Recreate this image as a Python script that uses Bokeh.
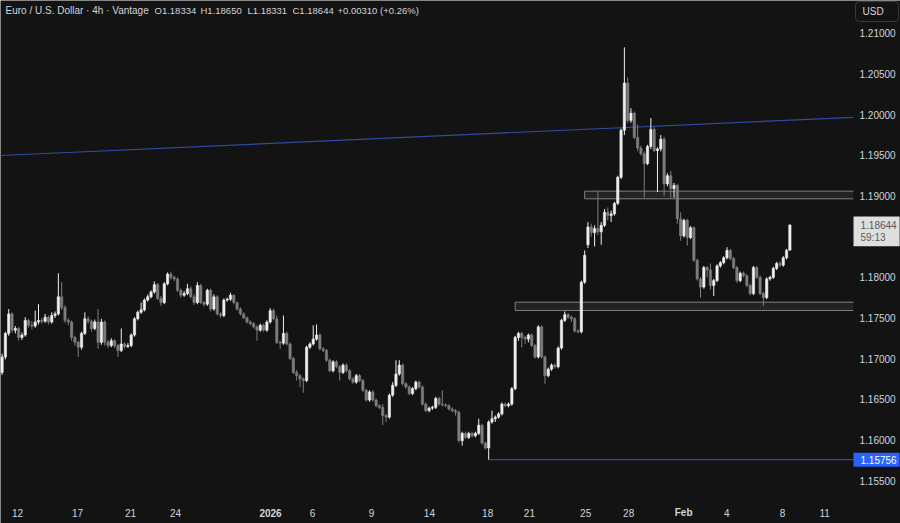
from bokeh.plotting import figure
from bokeh.models import ColumnDataSource, Label, Range1d
from bokeh.embed import file_html
from bokeh.resources import INLINE

# ---------------- data (EUR/USD 4h candles, oldest first) ----------------
opens = [
    1.1683, 1.1702, 1.1731, 1.1755, 1.1735, 1.1737, 1.1726, 1.1729, 1.1747, 1.1741,
    1.1740, 1.1745, 1.1747, 1.1746, 1.1751, 1.1745, 1.1753, 1.1755, 1.1776, 1.1763,
    1.1747, 1.1745, 1.1726, 1.1720, 1.1714, 1.1731, 1.1749, 1.1746, 1.1737, 1.1745,
    1.1720, 1.1745, 1.1720, 1.1716, 1.1722, 1.1716, 1.1710, 1.1718, 1.1715, 1.1716,
    1.1729, 1.1749, 1.1757, 1.1760, 1.1772, 1.1776, 1.1782, 1.1791, 1.1774, 1.1769,
    1.1792, 1.1804, 1.1800, 1.1798, 1.1784, 1.1778, 1.1780, 1.1786, 1.1776, 1.1769,
    1.1790, 1.1769, 1.1767, 1.1784, 1.1761, 1.1776, 1.1755, 1.1753, 1.1772, 1.1773,
    1.1778, 1.1769, 1.1761, 1.1755, 1.1750, 1.1745, 1.1743, 1.1739, 1.1735, 1.1741,
    1.1735, 1.1745, 1.1759, 1.1749, 1.1720, 1.1719, 1.1731, 1.1718, 1.1700, 1.1683,
    1.1679, 1.1675,
    1.1673, 1.1714, 1.1718, 1.1724, 1.1729, 1.1712, 1.1710, 1.1698, 1.1685, 1.1696,
    1.1690, 1.1683, 1.1692, 1.1685, 1.1675, 1.1671, 1.1679, 1.1673, 1.1661, 1.1649,
    1.1659, 1.1649, 1.1642, 1.1640, 1.1630, 1.1628, 1.1655, 1.1667, 1.1681, 1.1692,
    1.1669, 1.1665, 1.1657, 1.1663, 1.1671, 1.1665, 1.1644, 1.1636, 1.1639, 1.1640,
    1.1651, 1.1644, 1.1643, 1.1642, 1.1638, 1.1636, 1.1634, 1.1599, 1.1608, 1.1603,
    1.1608, 1.1605, 1.1608, 1.1618, 1.1596,
    1.1590, 1.1622, 1.1626, 1.1628, 1.1632, 1.1644, 1.1642, 1.1644, 1.1663, 1.1726,
    1.1731, 1.1726, 1.1724, 1.1729, 1.1716, 1.1702, 1.1739, 1.1702, 1.1679, 1.1687,
    1.1692, 1.1690, 1.1713, 1.1747, 1.1754, 1.1751, 1.1749, 1.1734, 1.1733, 1.1794,
    1.1840, 1.1862, 1.1855, 1.1860, 1.1856, 1.1864, 1.1880, 1.1876, 1.1878, 1.1891,
    1.1923, 1.1981, 1.2039, 1.1993, 1.2002, 1.1972, 1.1959, 1.1952, 1.1940, 1.1961,
    1.1982, 1.1956, 1.1958, 1.1970, 1.1915, 1.1925, 1.1909, 1.1913, 1.1872, 1.1851,
    1.1870, 1.1849, 1.1861, 1.1821, 1.1798, 1.1788, 1.1812, 1.1809, 1.1790, 1.1796,
    1.1814, 1.1818, 1.1824, 1.1833, 1.1823, 1.1812, 1.1796, 1.1805, 1.1802, 1.1790,
    1.1780, 1.1812, 1.1800, 1.1780, 1.1775, 1.1798, 1.1800, 1.1811, 1.1817, 1.1815,
    1.1824, 1.18334,
]
highs = [
    1.1706, 1.1733, 1.1761, 1.1757, 1.1740, 1.1739, 1.1732, 1.1751, 1.1749, 1.1746,
    1.1759, 1.1767, 1.1750, 1.1755, 1.1753, 1.1757, 1.1758, 1.1805, 1.1794, 1.1766,
    1.1750, 1.1747, 1.1728, 1.1722, 1.1733, 1.1757, 1.1752, 1.1748, 1.1748, 1.1761,
    1.1749, 1.1747, 1.1723, 1.1725, 1.1724, 1.1718, 1.1737, 1.1720, 1.1719, 1.1731,
    1.1751, 1.1759, 1.1769, 1.1774, 1.1779, 1.1784, 1.1795, 1.1793, 1.1777, 1.1794,
    1.1806, 1.1807, 1.1802, 1.1800, 1.1786, 1.1783, 1.1792, 1.1789, 1.1779, 1.1794,
    1.1792, 1.1771, 1.1786, 1.1786, 1.1779, 1.1778, 1.1757, 1.1774, 1.1775, 1.1781,
    1.1779, 1.1770, 1.1763, 1.1757, 1.1752, 1.1747, 1.1745, 1.1741, 1.1743, 1.1743,
    1.1747, 1.1762, 1.1761, 1.1753, 1.1722, 1.1753, 1.1733, 1.1720, 1.1702, 1.1686,
    1.1681, 1.1677,
    1.1716, 1.1720, 1.1741, 1.1742, 1.1731, 1.1714, 1.1712, 1.1700, 1.1698, 1.1698,
    1.1692, 1.1694, 1.1694, 1.1687, 1.1677, 1.1681, 1.1681, 1.1675, 1.1663, 1.1661,
    1.1661, 1.1651, 1.1644, 1.1644, 1.1632, 1.1657, 1.1671, 1.1698, 1.1698, 1.1694,
    1.1671, 1.1667, 1.1665, 1.1673, 1.1673, 1.1667, 1.1646, 1.1641, 1.1642, 1.1653,
    1.1653, 1.1661, 1.1645, 1.1644, 1.1640, 1.1638, 1.1636, 1.1610, 1.1610, 1.1610,
    1.1610, 1.1610, 1.1626, 1.1620, 1.1598,
    1.1624, 1.1636, 1.1630, 1.1634, 1.1646, 1.1646, 1.1646, 1.1665, 1.1728, 1.1733,
    1.1733, 1.1728, 1.1731, 1.1731, 1.1718, 1.1741, 1.1741, 1.1704, 1.1689, 1.1694,
    1.1694, 1.1715, 1.1749, 1.1758, 1.1756, 1.1753, 1.1751, 1.1736, 1.1796, 1.1833,
    1.1868, 1.1866, 1.1864, 1.1906, 1.1868, 1.1884, 1.1886, 1.1882, 1.1893, 1.1925,
    1.1983, 1.2083, 1.2046, 1.2008, 1.2004, 1.1988, 1.1962, 1.1955, 1.1963, 1.1996,
    1.1985, 1.1960, 1.1975, 1.1973, 1.1928, 1.1931, 1.1916, 1.1915, 1.1880, 1.1872,
    1.1872, 1.1863, 1.1863, 1.1823, 1.1800, 1.1814, 1.1814, 1.1817, 1.1798, 1.1816,
    1.1820, 1.1826, 1.1837, 1.1835, 1.1825, 1.1814, 1.1807, 1.1807, 1.1804, 1.1792,
    1.1814, 1.1814, 1.1802, 1.1782, 1.1800, 1.1802, 1.1813, 1.1819, 1.1820, 1.1826,
    1.1835, 1.18650,
]
lows = [
    1.1680, 1.1699, 1.1728, 1.1732, 1.1731, 1.1722, 1.1723, 1.1727, 1.1738, 1.1736,
    1.1738, 1.1742, 1.1743, 1.1744, 1.1742, 1.1743, 1.1750, 1.1753, 1.1760, 1.1744,
    1.1741, 1.1722, 1.1716, 1.1702, 1.1711, 1.1729, 1.1743, 1.1733, 1.1735, 1.1712,
    1.1717, 1.1716, 1.1713, 1.1714, 1.1713, 1.1702, 1.1708, 1.1712, 1.1713, 1.1714,
    1.1727, 1.1747, 1.1755, 1.1758, 1.1770, 1.1774, 1.1780, 1.1772, 1.1765, 1.1767,
    1.1790, 1.1797, 1.1795, 1.1782, 1.1775, 1.1776, 1.1778, 1.1774, 1.1766, 1.1767,
    1.1767, 1.1764, 1.1765, 1.1758, 1.1759, 1.1753, 1.1750, 1.1751, 1.1770, 1.1771,
    1.1767, 1.1759, 1.1753, 1.1749, 1.1743, 1.1741, 1.1737, 1.1722, 1.1733, 1.1733,
    1.1733, 1.1743, 1.1747, 1.1718, 1.1712, 1.1717, 1.1716, 1.1698, 1.1681, 1.1673,
    1.1665, 1.1658,
    1.1671, 1.1712, 1.1716, 1.1722, 1.1710, 1.1708, 1.1696, 1.1683, 1.1683, 1.1688,
    1.1673, 1.1681, 1.1683, 1.1673, 1.1669, 1.1669, 1.1671, 1.1659, 1.1647, 1.1647,
    1.1647, 1.1640, 1.1638, 1.1618, 1.1622, 1.1626, 1.1653, 1.1665, 1.1679, 1.1667,
    1.1663, 1.1655, 1.1655, 1.1661, 1.1663, 1.1642, 1.1634, 1.1634, 1.1637, 1.1638,
    1.1642, 1.1641, 1.1640, 1.1636, 1.1634, 1.1630, 1.1597, 1.1593, 1.1601, 1.1601,
    1.1603, 1.1603, 1.1606, 1.1594, 1.1588,
    1.15756, 1.1620, 1.1622, 1.1626, 1.1630, 1.1640, 1.1640, 1.1642, 1.1661, 1.1722,
    1.1714, 1.1718, 1.1720, 1.1714, 1.1700, 1.1700, 1.1700, 1.1669, 1.1677, 1.1685,
    1.1688, 1.1688, 1.1711, 1.1745, 1.1749, 1.1745, 1.1732, 1.1731, 1.1731, 1.1792,
    1.1836, 1.1850, 1.1838, 1.1852, 1.1840, 1.1862, 1.1870, 1.1868, 1.1876, 1.1889,
    1.1921, 1.1975, 1.1990, 1.1990, 1.1970, 1.1955, 1.1950, 1.1898, 1.1938, 1.1958,
    1.1954, 1.1905, 1.1955, 1.1900, 1.1912, 1.1898, 1.1898, 1.1866, 1.1845, 1.1849,
    1.1839, 1.1847, 1.1819, 1.1796, 1.1775, 1.1786, 1.1800, 1.1785, 1.1777, 1.1794,
    1.1812, 1.1816, 1.1822, 1.1821, 1.1810, 1.1793, 1.1794, 1.1800, 1.1788, 1.1778,
    1.1778, 1.1798, 1.1778, 1.1765, 1.1773, 1.1796, 1.1798, 1.1809, 1.1813, 1.1813,
    1.1822, 1.18331,
]
closes = [
    1.1702, 1.1731, 1.1755, 1.1735, 1.1737, 1.1726, 1.1729, 1.1747, 1.1741, 1.1740,
    1.1745, 1.1747, 1.1746, 1.1751, 1.1745, 1.1753, 1.1755, 1.1776, 1.1763, 1.1747,
    1.1745, 1.1726, 1.1720, 1.1714, 1.1731, 1.1749, 1.1746, 1.1737, 1.1745, 1.1720,
    1.1745, 1.1720, 1.1716, 1.1722, 1.1716, 1.1710, 1.1718, 1.1715, 1.1716, 1.1729,
    1.1749, 1.1757, 1.1760, 1.1772, 1.1776, 1.1782, 1.1791, 1.1774, 1.1769, 1.1792,
    1.1804, 1.1800, 1.1798, 1.1784, 1.1778, 1.1780, 1.1786, 1.1776, 1.1769, 1.1790,
    1.1769, 1.1767, 1.1784, 1.1761, 1.1776, 1.1755, 1.1753, 1.1772, 1.1773, 1.1778,
    1.1769, 1.1761, 1.1755, 1.1750, 1.1745, 1.1743, 1.1739, 1.1735, 1.1741, 1.1735,
    1.1745, 1.1759, 1.1749, 1.1720, 1.1719, 1.1731, 1.1718, 1.1700, 1.1683, 1.1679,
    1.1675, 1.1673,
    1.1714, 1.1718, 1.1724, 1.1729, 1.1712, 1.1710, 1.1698, 1.1685, 1.1696, 1.1690,
    1.1683, 1.1692, 1.1685, 1.1675, 1.1671, 1.1679, 1.1673, 1.1661, 1.1649, 1.1659,
    1.1649, 1.1642, 1.1640, 1.1630, 1.1628, 1.1655, 1.1667, 1.1681, 1.1692, 1.1669,
    1.1665, 1.1657, 1.1663, 1.1671, 1.1665, 1.1644, 1.1636, 1.1639, 1.1640, 1.1651,
    1.1644, 1.1643, 1.1642, 1.1638, 1.1636, 1.1634, 1.1599, 1.1608, 1.1603, 1.1608,
    1.1605, 1.1608, 1.1618, 1.1596, 1.1590,
    1.1622, 1.1626, 1.1628, 1.1632, 1.1644, 1.1642, 1.1644, 1.1663, 1.1726, 1.1731,
    1.1726, 1.1724, 1.1729, 1.1716, 1.1702, 1.1739, 1.1702, 1.1679, 1.1687, 1.1692,
    1.1690, 1.1713, 1.1747, 1.1754, 1.1751, 1.1749, 1.1734, 1.1733, 1.1794, 1.1827,
    1.1862, 1.1855, 1.1860, 1.1856, 1.1864, 1.1880, 1.1876, 1.1878, 1.1891, 1.1923,
    1.1981, 1.2039, 1.1993, 1.2002, 1.1972, 1.1959, 1.1952, 1.1940, 1.1961, 1.1982,
    1.1956, 1.1958, 1.1970, 1.1915, 1.1925, 1.1909, 1.1913, 1.1872, 1.1851, 1.1870,
    1.1849, 1.1861, 1.1821, 1.1798, 1.1788, 1.1812, 1.1809, 1.1790, 1.1796, 1.1814,
    1.1818, 1.1824, 1.1833, 1.1823, 1.1812, 1.1796, 1.1805, 1.1802, 1.1790, 1.1780,
    1.1812, 1.1800, 1.1780, 1.1775, 1.1798, 1.1800, 1.1811, 1.1817, 1.1815, 1.1824,
    1.18334, 1.18644,
]

# time axis: candle index of each date label
x_tick_pos = [4.65, 22.8, 38.8, 52.4, 81.1, 93.8, 111.6, 129.1,
              146.7, 159.3, 176.3, 189.3, 205.9, 218.9, 235.8, 248.5]
x_tick_labels = ["12", "17", "21", "24", "2026", "6", "9", "14",
                 "18", "21", "25", "28", "Feb", "4", "8", "11"]
bold_labels = ["2026", "Feb"]

y_ticks = [1.155, 1.160, 1.165, 1.170, 1.175, 1.180, 1.190, 1.195, 1.200, 1.205, 1.210]

# drawings
zone_start = [176, 155]
zone_top = [1.19060, 1.17694]
zone_bottom = [1.18966, 1.17592]
trend_idx = [-1, 257.2]
trend_price = [1.19498, 1.19969]
low_idx = 147
low_price = 1.15756
last_price = 1.18644
countdown = "59:13"

title_name = "Euro / U.S. Dollar \u00b7 4h \u00b7 Vantage"
title_values = ["O1.18334", "H1.18650", "L1.18331", "C1.18644", "+0.00310 (+0.26%)"]

# ---------------- layout / styling ----------------
W, H = 900, 523
PANE_RIGHT = 257.2          # candle-index at the price-scale edge (853 px)
BG = "#131313"
UP = "#efefef"
DOWN = "#7d7d7d"
TXT = "#d1d4dc"
BLUE = "#2f4b9f"
ZONE_LINE = "#808080"
FONT = "Liberation Sans"

n = len(closes)
assert len(opens) == n and len(highs) == n and len(lows) == n

idx = list(range(n))
col = [UP if c >= o else DOWN for o, c in zip(opens, closes)]
top = [max(o, c) for o, c in zip(opens, closes)]
bot = [min(o, c) for o, c in zip(opens, closes)]
src = ColumnDataSource(dict(x=idx, h=highs, l=lows, top=top, bot=bot, col=col))

p = figure(width=W, height=H, x_range=Range1d(-0.48, 271.42), y_range=Range1d(1.14971, 1.21406),
           output_backend="svg", toolbar_location=None,
           x_axis_location=None, y_axis_location=None,
           min_border_left=0, min_border_top=0, min_border_right=0, min_border_bottom=0,
           background_fill_color=BG, border_fill_color=BG, outline_line_color=None)
p.grid.visible = False

# zones: filled band, open towards the price scale
zright = [PANE_RIGHT] * len(zone_start)
zsrc = ColumnDataSource(dict(left=zone_start, right=zright, top=zone_top, bottom=zone_bottom))
p.quad(left="left", right="right", top="top", bottom="bottom", source=zsrc,
       fill_color="#262626", fill_alpha=0.9, line_color=None)
p.segment(x0="left", y0="top", x1="right", y1="top", source=zsrc, line_color=ZONE_LINE, line_width=1)
p.segment(x0="left", y0="bottom", x1="right", y1="bottom", source=zsrc, line_color=ZONE_LINE, line_width=1)
p.segment(x0="left", y0="top", x1="left", y1="bottom", source=zsrc, line_color=ZONE_LINE, line_width=1)

# trend line and low line
p.line(trend_idx, trend_price, line_color=BLUE, line_width=1.2)
p.line([low_idx, PANE_RIGHT], [low_price, low_price], line_color=BLUE, line_width=1.2)

# candles
p.segment(x0="x", y0="h", x1="x", y1="l", line_color="col", line_width=1, source=src)
p.vbar(x="x", width=0.7, top="top", bottom="bot", fill_color="col", line_color="col",
       line_width=0.6, source=src)


def lab(**kw):
    base = dict(text_color=TXT, text_font=FONT, text_font_size="10px")
    base.update(kw)
    p.add_layout(Label(**base))


# price scale labels
for t in y_ticks:
    lab(x=859, y=t, x_units="screen", y_units="data", text="%.5f" % t,
        text_align="left", text_baseline="middle")

# time scale labels
for t, s in zip(x_tick_pos, x_tick_labels):
    lab(x=t, y=H - 512, x_units="data", y_units="screen", text=s,
        text_font_style="bold" if s in bold_labels else "normal",
        text_align="center", text_baseline="middle")

# title
lab(x=5, y=H - 10, x_units="screen", y_units="screen", text=title_name,
    text_align="left", text_baseline="middle")
for tx, part in zip([154, 200, 247, 292, 337], title_values):
    lab(x=tx, y=H - 10, x_units="screen", y_units="screen", text=part,
        text_font_size="9.5px", text_align="left", text_baseline="middle")

# currency box
lab(x=855, y=H - 1, x_units="screen", y_units="screen", text="USD",
    text_align="left", text_baseline="top",
    padding=dict(left=7, right=15, top=4, bottom=5), border_radius=4,
    border_line_color="#3a3a3a", border_line_width=1, background_fill_color=BG)

# last price box
lab(x=853, y=H - 216, x_units="screen", y_units="screen",
    text="%.5f\n%s" % (last_price, countdown),
    text_color="#5a5a5a", text_line_height=1.15, text_align="left", text_baseline="top",
    padding=dict(left=7, right=3, top=3, bottom=3), background_fill_color="#dedede")

# low price box
lab(x=853, y=low_price, x_units="screen", y_units="data", text="%.5f" % low_price,
    text_color="#ffffff", text_align="left", text_baseline="middle",
    padding=dict(left=7, right=3, top=3, bottom=3), background_fill_color="#2962ff")

open("out.html", "w").write(file_html(p, INLINE))
